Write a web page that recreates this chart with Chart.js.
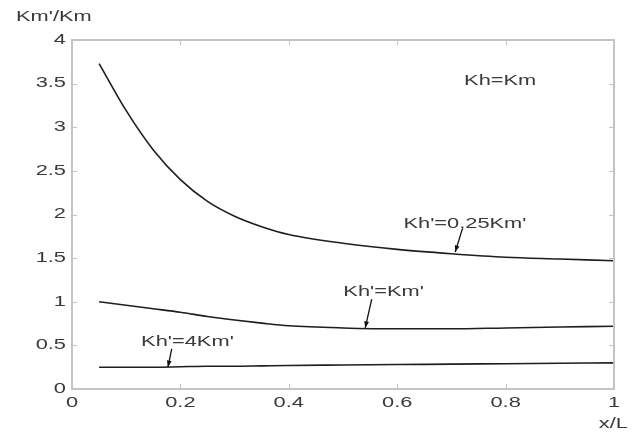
<!DOCTYPE html>
<html>
<head>
<meta charset="utf-8">
<script src="https://cdn.jsdelivr.net/npm/chart.js@4"></script>
<style>
  html, body { margin: 0; padding: 0; background: #fff; }
  #wrap { width: 637px; height: 434px; }
</style>
</head>
<body>
<div id="wrap"><canvas id="chart"></canvas></div>
<script>
// values
const xPos = [0.05, 0.1, 0.15, 0.2, 0.25, 0.3, 0.35, 0.4, 0.5, 0.6, 0.7, 0.8, 0.9, 1.0];
const kmQuarter = [3.73, 3.19, 2.74, 2.40, 2.15, 1.98, 1.86, 1.77, 1.67, 1.60, 1.55, 1.51, 1.49, 1.47];
const kmEqual = [1.0, 0.96, 0.92, 0.88, 0.83, 0.79, 0.755, 0.725, 0.70, 0.69, 0.69, 0.70, 0.71, 0.72];
const kmFour = [0.25, 0.25, 0.25, 0.255, 0.26, 0.26, 0.265, 0.27, 0.275, 0.28, 0.285, 0.29, 0.295, 0.30];
const xTicks = [0, 0.2, 0.4, 0.6, 0.8, 1];
const yTicks = [0, 0.5, 1, 1.5, 2, 2.5, 3, 3.5, 4];

// curve labels: text centre and arrow (from -> to) in data units
const notes = [
  { text: "Kh'=0,25Km'", x: 0.725, y: 1.89, ax: 0.72, ay: 1.83, bx: 0.707, by: 1.57 },
  { text: "Kh'=Km'", x: 0.575, y: 1.11, ax: 0.553, ay: 1.03, bx: 0.541, by: 0.70 },
  { text: "Kh'=4Km'", x: 0.213, y: 0.54, ax: 0.184, ay: 0.46, bx: 0.177, by: 0.25 }
];

const toPts = ys => xPos.map((x, i) => ({ x: x, y: ys[i] }));

const FONT = '14px "Liberation Sans", Arial, sans-serif';
const STRETCH = 1.56;
const TXT = '#3a3a3a';
const FRAME = '#c4c4c4';

function stretchedText(ctx, s, x, y, align) {
  ctx.save();
  ctx.font = FONT;
  ctx.fillStyle = TXT;
  ctx.textBaseline = 'middle';
  const w = ctx.measureText(s).width * STRETCH;
  let left = x;
  if (align === 'center') left = x - w / 2;
  if (align === 'right') left = x - w;
  ctx.translate(left, y);
  ctx.scale(STRETCH, 1);
  ctx.textAlign = 'left';
  ctx.fillText(s, 0, 0);
  ctx.restore();
}

const decor = {
  id: 'decor',
  afterDraw(chart) {
    const { ctx, chartArea: a, scales: { x, y } } = chart;
    ctx.save();
    // box
    ctx.strokeStyle = FRAME;
    ctx.lineWidth = 2;
    ctx.strokeRect(a.left, a.top, a.right - a.left, a.bottom - a.top);
    // inward ticks on all four sides
    ctx.lineWidth = 1;
    xTicks.forEach(v => {
      const px = Math.round(x.getPixelForValue(v)) + 0.5;
      ctx.beginPath();
      ctx.moveTo(px, a.bottom); ctx.lineTo(px, a.bottom - 5);
      ctx.moveTo(px, a.top); ctx.lineTo(px, a.top + 5);
      ctx.stroke();
    });
    yTicks.forEach(v => {
      const py = Math.round(y.getPixelForValue(v)) + 0.5;
      ctx.beginPath();
      ctx.moveTo(a.left, py); ctx.lineTo(a.left + 5, py);
      ctx.moveTo(a.right, py); ctx.lineTo(a.right - 5, py);
      ctx.stroke();
    });
    ctx.restore();

    // tick labels
    xTicks.forEach(v => stretchedText(ctx, String(v), x.getPixelForValue(v), a.bottom + 14, 'center'));
    yTicks.forEach(v => stretchedText(ctx, String(v), a.left - 6, y.getPixelForValue(v), 'right'));

    // axis titles
    stretchedText(ctx, "Km'/Km", 16, 17, 'left');
    stretchedText(ctx, 'x/L', 628, 424, 'right');
    stretchedText(ctx, 'Kh=Km', x.getPixelForValue(0.79), y.getPixelForValue(3.53), 'center');

    // curve notes with arrows
    notes.forEach(n => {
      stretchedText(ctx, n.text, x.getPixelForValue(n.x), y.getPixelForValue(n.y), 'center');
      const x1 = x.getPixelForValue(n.ax), y1 = y.getPixelForValue(n.ay);
      const x2 = x.getPixelForValue(n.bx), y2 = y.getPixelForValue(n.by);
      ctx.save();
      ctx.strokeStyle = '#111';
      ctx.fillStyle = '#111';
      ctx.lineWidth = 1.3;
      ctx.beginPath();
      ctx.moveTo(x1, y1); ctx.lineTo(x2, y2);
      ctx.stroke();
      const ang = Math.atan2(y2 - y1, x2 - x1);
      ctx.beginPath();
      ctx.moveTo(x2, y2);
      ctx.lineTo(x2 - 7 * Math.cos(ang - 0.35), y2 - 7 * Math.sin(ang - 0.35));
      ctx.lineTo(x2 - 7 * Math.cos(ang + 0.35), y2 - 7 * Math.sin(ang + 0.35));
      ctx.closePath();
      ctx.fill();
      ctx.restore();
    });
  }
};

const lineStyle = { borderColor: '#1e1e1e', borderWidth: 1.6, pointRadius: 0, cubicInterpolationMode: 'monotone', fill: false };

new Chart(document.getElementById('chart'), {
  type: 'line',
  data: {
    datasets: [
      Object.assign({ label: "Kh'=0,25Km'", data: toPts(kmQuarter) }, lineStyle),
      Object.assign({ label: "Kh'=Km'", data: toPts(kmEqual) }, lineStyle),
      Object.assign({ label: "Kh'=4Km'", data: toPts(kmFour) }, lineStyle)
    ]
  },
  options: {
    responsive: true,
    maintainAspectRatio: false,
    animation: false,
    layout: { padding: { left: 0, right: 23, top: 40, bottom: 0 } },
    plugins: { legend: { display: false }, tooltip: { enabled: false } },
    scales: {
      x: {
        type: 'linear', min: 0, max: 1,
        ticks: { display: false, stepSize: 0.2 },
        grid: { display: false },
        border: { display: false },
        afterFit(s) { s.height = 45; }
      },
      y: {
        type: 'linear', min: 0, max: 4,
        ticks: { display: false, stepSize: 0.5 },
        grid: { display: false },
        border: { display: false },
        afterFit(s) { s.width = 72; }
      }
    }
  },
  plugins: [decor]
});
</script>
</body>
</html>
